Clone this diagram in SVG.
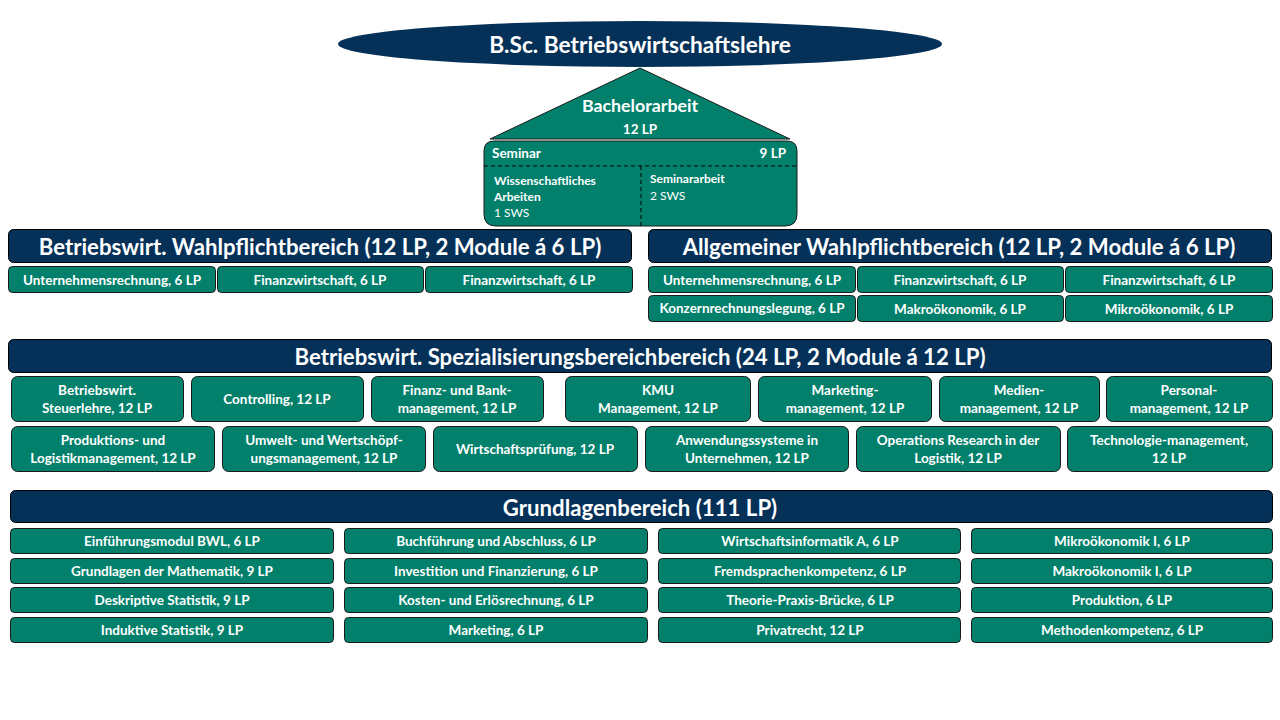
<svg xmlns="http://www.w3.org/2000/svg" width="1280" height="720" viewBox="0 0 1280 720">
<style>
.nav{fill:#053159;stroke:#000;stroke-width:1}
.grn{fill:#02806B;stroke:#1a1a1a;stroke-width:1}
text{font-family:Lato,"Open Sans","Liberation Sans",sans-serif;fill:#fff;font-weight:bold}
.h{font-size:22.2px;text-anchor:middle;dominant-baseline:central}
.s{font-size:13.5px;text-anchor:middle;dominant-baseline:central}
.n{font-weight:normal}
.dash{stroke:#000;stroke-width:1;stroke-dasharray:4 3;fill:none}
</style>
<rect width="1280" height="720" fill="#fff"/>
<g id="title">
<ellipse cx="640" cy="44" rx="302" ry="23" fill="#053159"/>
<text x="640" y="44" class="h" style="font-size:22.7px">B.Sc. Betriebswirtschaftslehre</text>
</g>
<g id="bachelorarbeit">
<polygon points="640,68 490,139 790,139" class="grn"/>
<text x="640" y="105" class="s" style="font-size:17.8px">Bachelorarbeit</text>
<text x="640" y="129" class="s">12 LP</text>
</g>
<g id="seminar">
<path d="M494,141 H787 Q797,141 797,151 V214 Q797,226 785,226 H496 Q484,226 484,214 V151 Q484,141 494,141 Z" class="grn"/>
<line x1="484" y1="166" x2="797" y2="166" class="dash"/>
<line x1="641" y1="166" x2="641" y2="226" class="dash"/>
<text x="492" y="153" style="font-size:13.5px;dominant-baseline:central">Seminar</text>
<text x="786" y="153" style="font-size:13.5px;dominant-baseline:central;text-anchor:end">9 LP</text>
<text x="494" y="180" style="font-size:12px;dominant-baseline:central">Wissenschaftliches</text>
<text x="494" y="196" style="font-size:12px;dominant-baseline:central">Arbeiten</text>
<text x="494" y="212" class="n" style="font-size:12px;dominant-baseline:central">1 SWS</text>
<text x="650" y="178" style="font-size:12px;dominant-baseline:central">Seminararbeit</text>
<text x="650" y="195" class="n" style="font-size:12px;dominant-baseline:central">2 SWS</text>
</g>
<g id="bw-wahlpflicht">
<rect x="8.5" y="229.5" width="623" height="33" rx="5" class="nav"/>
<text x="320" y="246" class="h">Betriebswirt. Wahlpflichtbereich (12 LP, 2 Module á 6 LP)</text>
<rect x="8.5" y="266.5" width="207" height="26" rx="4" class="grn"/>
<text x="112" y="280" class="s">Unternehmensrechnung, 6 LP</text>
<rect x="217.5" y="266.5" width="206" height="26" rx="4" class="grn"/>
<text x="320" y="280" class="s">Finanzwirtschaft, 6 LP</text>
<rect x="425.5" y="266.5" width="207" height="26" rx="4" class="grn"/>
<text x="529" y="280" class="s">Finanzwirtschaft, 6 LP</text>
</g>
<g id="allg-wahlpflicht">
<rect x="648.5" y="229.5" width="623" height="33" rx="5" class="nav"/>
<text x="959" y="246" class="h">Allgemeiner Wahlpflichtbereich (12 LP, 2 Module á 6 LP)</text>
<rect x="648.5" y="266.5" width="207" height="26" rx="4" class="grn"/>
<text x="752" y="280" class="s">Unternehmensrechnung, 6 LP</text>
<rect x="857.5" y="266.5" width="206" height="26" rx="4" class="grn"/>
<text x="960" y="280" class="s">Finanzwirtschaft, 6 LP</text>
<rect x="1065.5" y="266.5" width="207" height="26" rx="4" class="grn"/>
<text x="1169" y="280" class="s">Finanzwirtschaft, 6 LP</text>
<rect x="648.5" y="295.5" width="207" height="26" rx="4" class="grn"/>
<text x="752" y="308" class="s">Konzernrechnungslegung, 6 LP</text>
<rect x="857.5" y="295.5" width="206" height="26" rx="4" class="grn"/>
<text x="960" y="309" class="s">Makroökonomik, 6 LP</text>
<rect x="1065.5" y="295.5" width="207" height="26" rx="4" class="grn"/>
<text x="1169" y="309" class="s">Mikroökonomik, 6 LP</text>
</g>
<g id="spezialisierung">
<rect x="8.5" y="339.5" width="1263" height="33" rx="5" class="nav"/>
<text x="640" y="356" class="h">Betriebswirt. Spezialisierungsbereichbereich (24 LP, 2 Module á 12 LP)</text>
<rect x="11.5" y="376.5" width="172" height="45" rx="6" class="grn"/>
<text x="97" y="390" class="s">Betriebswirt.</text><text x="97" y="408" class="s">Steuerlehre, 12 LP</text>
<rect x="191.5" y="376.5" width="172" height="45" rx="6" class="grn"/>
<text x="277" y="399" class="s">Controlling, 12 LP</text>
<rect x="371.5" y="376.5" width="172" height="45" rx="6" class="grn"/>
<text x="457" y="390" class="s">Finanz- und Bank-</text><text x="457" y="408" class="s">management, 12 LP</text>
<rect x="565.5" y="376.5" width="185" height="45" rx="6" class="grn"/>
<text x="658" y="390" class="s">KMU</text><text x="658" y="408" class="s">Management, 12 LP</text>
<rect x="758.5" y="376.5" width="173" height="45" rx="6" class="grn"/>
<text x="845" y="390" class="s">Marketing-</text><text x="845" y="408" class="s">management, 12 LP</text>
<rect x="939.5" y="376.5" width="160" height="45" rx="6" class="grn"/>
<text x="1019" y="390" class="s">Medien-</text><text x="1019" y="408" class="s">management, 12 LP</text>
<rect x="1106.5" y="376.5" width="166" height="45" rx="6" class="grn"/>
<text x="1189" y="390" class="s">Personal-</text><text x="1189" y="408" class="s">management, 12 LP</text>
<rect x="11.5" y="426.5" width="203" height="45" rx="6" class="grn"/>
<text x="113" y="440" class="s">Produktions- und</text><text x="113" y="458" class="s">Logistikmanagement, 12 LP</text>
<rect x="222.5" y="426.5" width="203" height="45" rx="6" class="grn"/>
<text x="324" y="440" class="s">Umwelt- und Wertschöpf-</text><text x="324" y="458" class="s">ungsmanagement, 12 LP</text>
<rect x="433.5" y="426.5" width="204" height="45" rx="6" class="grn"/>
<text x="535" y="449" class="s">Wirtschaftsprüfung, 12 LP</text>
<rect x="645.5" y="426.5" width="203" height="45" rx="6" class="grn"/>
<text x="747" y="440" class="s">Anwendungssysteme in</text><text x="747" y="458" class="s">Unternehmen, 12 LP</text>
<rect x="856.5" y="426.5" width="204" height="45" rx="6" class="grn"/>
<text x="958" y="440" class="s">Operations Research in der</text><text x="958" y="458" class="s">Logistik, 12 LP</text>
<rect x="1067.5" y="426.5" width="205" height="45" rx="6" class="grn"/>
<text x="1169" y="440" class="s">Technologie-management,</text><text x="1169" y="458" class="s">12 LP</text>
</g>
<g id="grundlagen">
<rect x="10.5" y="490.5" width="1262" height="32" rx="5" class="nav"/>
<text x="640" y="507" class="h">Grundlagenbereich (111 LP)</text>
<rect x="10.5" y="528.5" width="323" height="25" rx="4" class="grn"/>
<text x="172" y="541" class="s">Einführungsmodul BWL, 6 LP</text>
<rect x="10.5" y="558.5" width="323" height="25" rx="4" class="grn"/>
<text x="172" y="571" class="s">Grundlagen der Mathematik, 9 LP</text>
<rect x="10.5" y="587.5" width="323" height="25" rx="4" class="grn"/>
<text x="172" y="600" class="s">Deskriptive Statistik, 9 LP</text>
<rect x="10.5" y="617.5" width="323" height="25" rx="4" class="grn"/>
<text x="172" y="630" class="s">Induktive Statistik, 9 LP</text>
<rect x="344.5" y="528.5" width="303" height="25" rx="4" class="grn"/>
<text x="496" y="541" class="s">Buchführung und Abschluss, 6 LP</text>
<rect x="344.5" y="558.5" width="303" height="25" rx="4" class="grn"/>
<text x="496" y="571" class="s">Investition und Finanzierung, 6 LP</text>
<rect x="344.5" y="587.5" width="303" height="25" rx="4" class="grn"/>
<text x="496" y="600" class="s">Kosten- und Erlösrechnung, 6 LP</text>
<rect x="344.5" y="617.5" width="303" height="25" rx="4" class="grn"/>
<text x="496" y="630" class="s">Marketing, 6 LP</text>
<rect x="658.5" y="528.5" width="302" height="25" rx="4" class="grn"/>
<text x="810" y="541" class="s">Wirtschaftsinformatik A, 6 LP</text>
<rect x="658.5" y="558.5" width="302" height="25" rx="4" class="grn"/>
<text x="810" y="571" class="s">Fremdsprachenkompetenz, 6 LP</text>
<rect x="658.5" y="587.5" width="302" height="25" rx="4" class="grn"/>
<text x="810" y="600" class="s">Theorie-Praxis-Brücke, 6 LP</text>
<rect x="658.5" y="617.5" width="302" height="25" rx="4" class="grn"/>
<text x="810" y="630" class="s">Privatrecht, 12 LP</text>
<rect x="971.5" y="528.5" width="301" height="25" rx="4" class="grn"/>
<text x="1122" y="541" class="s">Mikroökonomik I, 6 LP</text>
<rect x="971.5" y="558.5" width="301" height="25" rx="4" class="grn"/>
<text x="1122" y="571" class="s">Makroökonomik I, 6 LP</text>
<rect x="971.5" y="587.5" width="301" height="25" rx="4" class="grn"/>
<text x="1122" y="600" class="s">Produktion, 6 LP</text>
<rect x="971.5" y="617.5" width="301" height="25" rx="4" class="grn"/>
<text x="1122" y="630" class="s">Methodenkompetenz, 6 LP</text>
</g>
</svg>
